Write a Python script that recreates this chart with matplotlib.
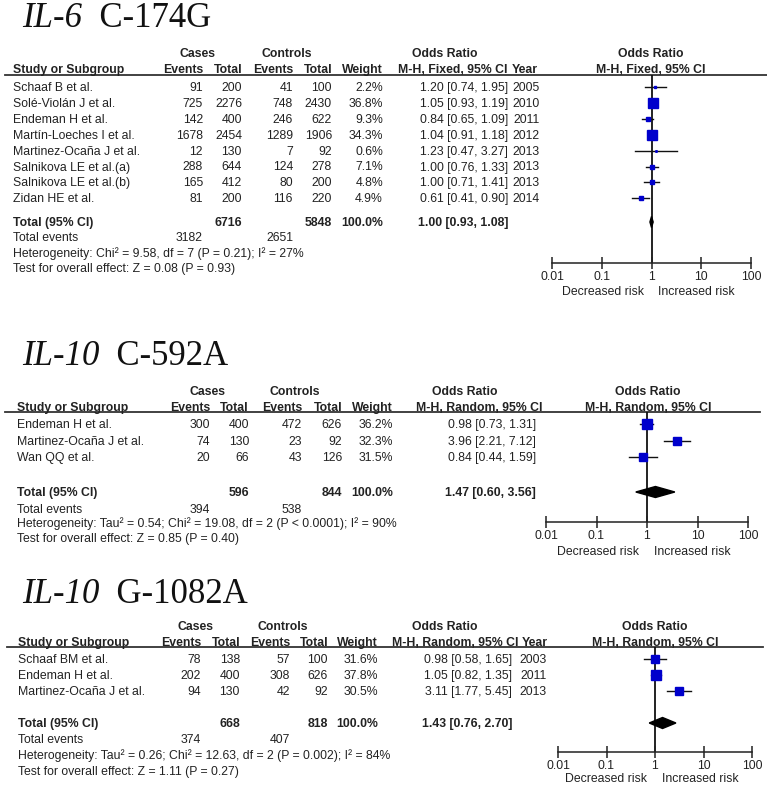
import matplotlib
matplotlib.use("Agg")
import matplotlib.pyplot as plt
from matplotlib.ticker import NullLocator
import numpy as np

# ---------------- data ----------------
# Panel 1: IL-6 C-174G
studies1 = ["Schaaf B et al.", "Solé-Violán J et al.", "Endeman H et al.", "Martín-Loeches I et al.",
            "Martinez-Ocaña J et al.", "Salnikova LE et al.(a)", "Salnikova LE et al.(b)", "Zidan HE et al."]
case_ev1 = [91, 725, 142, 1678, 12, 288, 165, 81]
case_tot1 = [200, 2276, 400, 2454, 130, 644, 412, 200]
ctrl_ev1 = [41, 748, 246, 1289, 7, 124, 80, 116]
ctrl_tot1 = [100, 2430, 622, 1906, 92, 278, 200, 220]
weight1 = [2.2, 36.8, 9.3, 34.3, 0.6, 7.1, 4.8, 4.9]
or1 = [1.20, 1.05, 0.84, 1.04, 1.23, 1.00, 1.00, 0.61]
lo1 = [0.74, 0.93, 0.65, 0.91, 0.47, 0.76, 0.71, 0.41]
hi1 = [1.95, 1.19, 1.09, 1.18, 3.27, 1.33, 1.41, 0.90]
year1 = [2005, 2010, 2011, 2012, 2013, 2013, 2013, 2014]
total1 = dict(case_tot=6716, ctrl_tot=5848, case_ev=3182, ctrl_ev=2651, weight=100.0, orr=1.00, lo=0.93, hi=1.08)
het1 = "Heterogeneity: Chi² = 9.58, df = 7 (P = 0.21); I² = 27%"
test1 = "Test for overall effect: Z = 0.08 (P = 0.93)"

# Panel 2: IL-10 C-592A
studies2 = ["Endeman H et al.", "Martinez-Ocaña J et al.", "Wan QQ et al."]
case_ev2 = [300, 74, 20]
case_tot2 = [400, 130, 66]
ctrl_ev2 = [472, 23, 43]
ctrl_tot2 = [626, 92, 126]
weight2 = [36.2, 32.3, 31.5]
or2 = [0.98, 3.96, 0.84]
lo2 = [0.73, 2.21, 0.44]
hi2 = [1.31, 7.12, 1.59]
total2 = dict(case_tot=596, ctrl_tot=844, case_ev=394, ctrl_ev=538, weight=100.0, orr=1.47, lo=0.60, hi=3.56)
het2 = "Heterogeneity: Tau² = 0.54; Chi² = 19.08, df = 2 (P < 0.0001); I² = 90%"
test2 = "Test for overall effect: Z = 0.85 (P = 0.40)"

# Panel 3: IL-10 G-1082A
studies3 = ["Schaaf BM et al.", "Endeman H et al.", "Martinez-Ocaña J et al."]
case_ev3 = [78, 202, 94]
case_tot3 = [138, 400, 130]
ctrl_ev3 = [57, 308, 42]
ctrl_tot3 = [100, 626, 92]
weight3 = [31.6, 37.8, 30.5]
or3 = [0.98, 1.05, 3.11]
lo3 = [0.58, 0.82, 1.77]
hi3 = [1.65, 1.35, 5.45]
year3 = [2003, 2011, 2013]
total3 = dict(case_tot=668, ctrl_tot=818, case_ev=374, ctrl_ev=407, weight=100.0, orr=1.43, lo=0.76, hi=2.70)
het3 = "Heterogeneity: Tau² = 0.26; Chi² = 12.63, df = 2 (P = 0.002); I² = 84%"
test3 = "Test for overall effect: Z = 1.11 (P = 0.27)"

tick_vals = [0.01, 0.1, 1, 10, 100]
tick_labels = ["0.01", "0.1", "1", "10", "100"]

# ---------------- layout ----------------
W, H, DPI = 767, 787, 100
fig = plt.figure(figsize=(W / DPI, H / DPI), dpi=DPI)
fig.patch.set_facecolor("white")
bg = fig.add_axes([0, 0, 1, 1])
bg.set_xlim(0, W)
bg.set_ylim(H, 0)
bg.axis("off")

FS = 8.8
SANS = "Liberation Sans"
SERIF = "Liberation Serif"
TC = "#222222"
BLUE = "#0000CC"


def txt(x, y, s, ha="left", bold=False):
    bg.text(x, y + 4, s, ha=ha, va="baseline", fontsize=FS, family=SANS,
            fontweight="bold" if bold else "normal", color=TC)


def title(x, y, ital, rest):
    t = bg.text(x, y, ital, ha="left", va="baseline", fontsize=25, family=SERIF,
                fontstyle="italic", color="#111111")
    bg.annotate("  " + rest, xy=(1, 0), xycoords=t, ha="left", va="bottom",
                fontsize=25, family=SERIF, color="#111111")


def panel(L, studies, cev, ctot, xev, xtot, w, orr, lo, hi, year, tot, het, test, method):
    title(22, L["title_y"], L["ital"], L["rest"])
    # headers
    txt(L["cases_c"], L["cases_y"], "Cases", ha="center", bold=True)
    txt(L["ctrl_c"], L["cases_y"], "Controls", ha="center", bold=True)
    txt(L["orh_c"], L["cases_y"], "Odds Ratio", ha="center", bold=True)
    txt(L["ploth_c"], L["cases_y"], "Odds Ratio", ha="center", bold=True)
    hy = L["hdr_y"]
    txt(L["study_x"], hy, "Study or Subgroup", bold=True)
    txt(L["cev_r"], hy, "Events", ha="right", bold=True)
    txt(L["ctot_r"], hy, "Total", ha="right", bold=True)
    txt(L["xev_r"], hy, "Events", ha="right", bold=True)
    txt(L["xtot_r"], hy, "Total", ha="right", bold=True)
    txt(L["w_r"], hy, "Weight", ha="right", bold=True)
    txt(L["mh_r"], hy, "M-H, %s, 95%% CI" % method, ha="right", bold=True)
    if year is not None:
        txt(L["yearh_r"], hy, "Year", ha="right", bold=True)
    txt(L["ploth_c"], hy, "M-H, %s, 95%% CI" % method, ha="center", bold=True)
    bg.plot([L["line_x0"], L["line_x1"]], [L["line_y"], L["line_y"]], color="#333333", lw=1.3)

    # rows
    ys = [L["row0"] + i * L["dy"] for i in range(len(studies))]
    for i, y in enumerate(ys):
        txt(L["study_x"], y, studies[i])
        txt(L["cev_r"], y, str(cev[i]), ha="right")
        txt(L["ctot_r"], y, str(ctot[i]), ha="right")
        txt(L["xev_r"], y, str(xev[i]), ha="right")
        txt(L["xtot_r"], y, str(xtot[i]), ha="right")
        txt(L["w_r"], y, "%.1f%%" % w[i], ha="right")
        txt(L["or_r"], y, "%.2f [%.2f, %.2f]" % (orr[i], lo[i], hi[i]), ha="right")
        if year is not None:
            txt(L["year_r"], y, str(year[i]), ha="right")
    ty = L["total_y"]
    txt(L["study_x"], ty, "Total (95% CI)", bold=True)
    txt(L["ctot_r"], ty, str(tot["case_tot"]), ha="right", bold=True)
    txt(L["xtot_r"], ty, str(tot["ctrl_tot"]), ha="right", bold=True)
    txt(L["w_r"], ty, "%.1f%%" % tot["weight"], ha="right", bold=True)
    txt(L["or_r"], ty, "%.2f [%.2f, %.2f]" % (tot["orr"], tot["lo"], tot["hi"]), ha="right", bold=True)
    txt(L["study_x"], L["ev_y"], "Total events")
    txt(L["cev_r"], L["ev_y"], str(tot["case_ev"]), ha="right")
    txt(L["xev_r"], L["ev_y"], str(tot["ctrl_ev"]), ha="right")
    txt(L["study_x"], L["het_y"], het)
    txt(L["study_x"], L["test_y"], test)

    # forest axes
    x0, x1, ay, ly = L["px0"], L["px1"], L["axis_y"], L["line_y"]
    ax = fig.add_axes([x0 / W, 1 - ay / H, (x1 - x0) / W, (ay - ly) / H])
    ax.set_xscale("log")
    ax.set_xlim(0.01, 100)
    ax.set_ylim(ay, ly)
    ax.patch.set_alpha(0)
    for s in ("top", "left", "right"):
        ax.spines[s].set_visible(False)
    ax.spines["bottom"].set_linewidth(1.1)
    ax.spines["bottom"].set_color("#222222")
    ax.set_xticks(tick_vals)
    ax.set_xticklabels(tick_labels)
    ax.xaxis.set_minor_locator(NullLocator())
    ax.set_yticks([])
    ax.tick_params(axis="x", direction="inout", length=8, width=1.1, color="#222222",
                   labelsize=FS, labelcolor=TC, pad=2)
    for lab in ax.get_xticklabels():
        lab.set_family(SANS)
    ax.axvline(1, color="#111111", lw=1.3, zorder=1)
    wmax = 37.0
    for i, y in enumerate(ys):
        ax.plot([lo[i], hi[i]], [y, y], color="#111111", lw=1.0, zorder=2, clip_on=False)
        side = 9.5 * np.sqrt(w[i] / wmax)
        ax.plot([orr[i]], [y], marker="s", ms=max(side, 1.5) * 72 / DPI, color=BLUE,
                mec=BLUE, zorder=3, clip_on=False)
    dh = 5.5
    ax.fill([tot["lo"], tot["orr"], tot["hi"], tot["orr"]], [ty, ty - dh, ty, ty + dh],
            color="black", zorder=4, clip_on=False)
    xc = (x0 + x1) / 2
    txt(xc - 8, L["risk_y"], "Decreased risk", ha="right")
    txt(xc + 7, L["risk_y"], "Increased risk", ha="left")


L1 = dict(title_y=27, ital="IL-6", rest="C-174G",
          cases_y=53, hdr_y=69, line_y=75, line_x0=5, line_x1=767,
          row0=87, dy=15.9, total_y=222, ev_y=237, het_y=253, test_y=268,
          axis_y=263, risk_y=291, px0=552, px1=751,
          study_x=13, cev_r=203, ctot_r=242, xev_r=293, xtot_r=332, w_r=383,
          or_r=508, year_r=540, mh_r=508, yearh_r=538,
          cases_c=197, ctrl_c=287, orh_c=445, ploth_c=651)
L2 = dict(title_y=365, ital="IL-10", rest="C-592A",
          cases_y=391, hdr_y=407, line_y=412, line_x0=5, line_x1=760,
          row0=424, dy=16.6, total_y=492, ev_y=509, het_y=523, test_y=538,
          axis_y=522, risk_y=551, px0=546, px1=748,
          study_x=17, cev_r=210, ctot_r=249, xev_r=302, xtot_r=342, w_r=393,
          or_r=536, year_r=None, mh_r=542, yearh_r=None,
          cases_c=207, ctrl_c=295, orh_c=465, ploth_c=648)
L3 = dict(title_y=603, ital="IL-10", rest="G-1082A",
          cases_y=626, hdr_y=642, line_y=647, line_x0=7, line_x1=763,
          row0=659, dy=16.0, total_y=723, ev_y=739, het_y=755, test_y=771,
          axis_y=752, risk_y=778, px0=558, px1=752,
          study_x=18, cev_r=201, ctot_r=240, xev_r=290, xtot_r=328, w_r=378,
          or_r=512, year_r=547, mh_r=518, yearh_r=548,
          cases_c=195, ctrl_c=283, orh_c=445, ploth_c=655)

panel(L1, studies1, case_ev1, case_tot1, ctrl_ev1, ctrl_tot1, weight1, or1, lo1, hi1, year1,
      total1, het1, test1, "Fixed")
panel(L2, studies2, case_ev2, case_tot2, ctrl_ev2, ctrl_tot2, weight2, or2, lo2, hi2, None,
      total2, het2, test2, "Random")
panel(L3, studies3, case_ev3, case_tot3, ctrl_ev3, ctrl_tot3, weight3, or3, lo3, hi3, year3,
      total3, het3, test3, "Random")

fig.savefig("out.png", dpi=DPI, facecolor="white")
